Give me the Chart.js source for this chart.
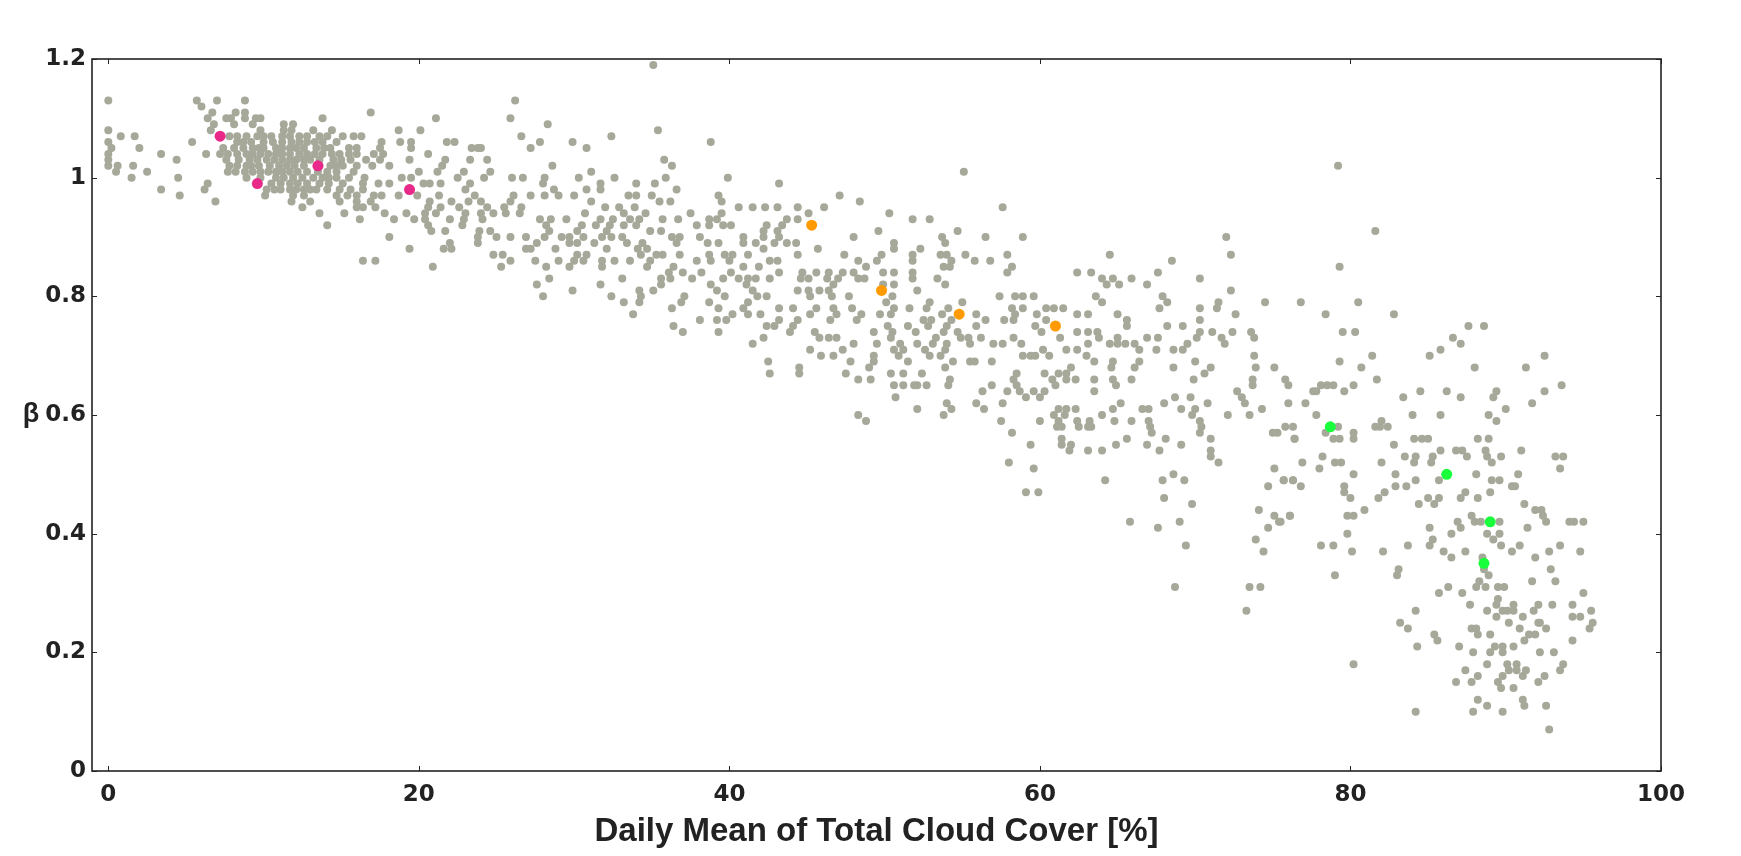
<!DOCTYPE html>
<html>
<head>
<meta charset="utf-8">
<script src="https://cdn.jsdelivr.net/npm/chart.js@4.4.1/dist/chart.umd.min.js"></script>
<style>
  html, body { margin: 0; padding: 0; background: #fff; }
</style>
</head>
<body>
<canvas id="chart" width="1741" height="856"></canvas>
<script>
// beta rows: [beta, [daily mean cloud cover values at that beta]]
const clearRows = [
  [1.13, [0, 5.7, 7, 8.8]],
  [1.12, [6]],
  [1.11, [6.7, 8.2, 8.8, 16.9]],
  [1.10, [6.4, 7.6, 7.9, 8.8, 9.5, 9.8, 13.8, 21.1]],
  [1.09, [6.8, 8.1, 9.3, 11.3, 11.9]],
  [1.08, [0, 6.6, 9.8, 11.3, 11.8, 13.2, 14.4, 18.7, 20.1]],
  [1.07, [0.8, 1.7, 7.8, 8.3, 8.9, 9.6, 10, 10.5, 11.2, 11.7, 12.3, 12.8, 13.6, 14.1, 15.1, 15.8, 16.3]],
  [1.06, [0, 5.4, 8.3, 8.7, 9.2, 10, 10.6, 11.2, 11.8, 12.3, 12.8, 13.3, 13.8, 14.7, 17.6, 18.8, 19.5, 21.8]],
  [1.05, [0.2, 2, 7.4, 8.1, 8.7, 9.3, 9.7, 10, 10.8, 11.2, 11.7, 12.1, 12.6, 13.4, 13.9, 14.3, 15.5, 16, 17.5, 19.5]],
  [1.04, [0, 3.4, 6.3, 7.2, 7.7, 8.3, 8.9, 9.3, 9.8, 10.3, 10.8, 11.2, 11.7, 12.3, 12.8, 13.3, 13.8, 14.4, 14.9, 15.5, 16, 17.1, 17.7, 20.6]],
  [1.03, [0, 4.4, 7.6, 8.4, 9.1, 9.6, 10.2, 10.7, 11.2, 11.7, 12.1, 12.6, 13, 13.6, 14.5, 15, 15.6, 16.6, 17.5, 19.4, 21.7]],
  [1.02, [0, 0.6, 1.6, 7.8, 8.3, 8.9, 9.2, 9.7, 10.4, 11, 11.5, 12, 12.6, 13.6, 14.3, 14.7, 15.1, 16, 17, 18.1, 21.5]],
  [1.01, [0.5, 2.5, 7.7, 8.2, 8.8, 9.3, 9.8, 10.3, 10.8, 11.2, 11.7, 12.2, 12.8, 13.5, 14.1, 14.7, 15.8, 20, 21.2]],
  [1.00, [1.5, 4.5, 8.9, 9.8, 10.8, 11.3, 11.9, 12.5, 13.2, 13.8, 14.2, 14.7, 15.5, 16.5, 18.9, 19.5]],
  [0.99, [6.4, 10.5, 11.1, 11.7, 12.2, 12.8, 13.6, 14.2, 15.1, 16.4, 17.4, 18.1, 20.3, 20.7, 21.4]],
  [0.98, [3.4, 6.2, 10.2, 10.7, 11.1, 11.7, 12.1, 12.6, 13, 13.4, 14.1, 14.9, 15.6, 16.4]],
  [0.97, [4.6, 10.1, 11.9, 12.6, 14.7, 15.4, 16, 17.1, 17.6, 18.7, 19.9, 21.3]],
  [0.96, [6.9, 11.8, 13, 14.9, 16, 16.9, 20.7]],
  [0.95, [12.5, 16, 16.4, 17.2, 20.6, 21.4]],
  [0.94, [13.6, 15.2, 17.8, 19.2, 20.4, 21.1, 23]],
  [0.93, [16.2, 18.4, 19.7, 20.4]],
  [0.92, [14.1, 20.6]],
  [0.91, [20.8, 21.7]],
  [0.90, [18.1]],
  [0.88, [19.4, 21.6]],
  [0.86, [16.4, 17.2]],
  [0.85, [20.9]]
];

const partlyRows = [
  [1.19, [35.1]],
  [1.13, [26.2]],
  [1.10, [25.9]],
  [1.09, [28.3]],
  [1.08, [35.4]],
  [1.07, [26.6, 32.4]],
  [1.06, [22.3, 27.8, 29.9, 38.8]],
  [1.05, [23.4, 23.8, 24, 27.2, 30.8]],
  [1.03, [23.3, 24.4, 35.8]],
  [1.02, [28.6, 36.3]],
  [1.01, [22.9, 24.6, 31.1]],
  [1.00, [22.5, 24.2, 26, 26.7, 28.1, 30.3, 32.6, 35.9, 39.9]],
  [0.99, [23.3, 28, 31.7, 34, 35.2, 43.2]],
  [0.98, [23, 28.7, 30.8, 31.7, 36.6]],
  [0.97, [23.6, 26.1, 27.2, 28.1, 29, 30, 33.5, 34, 35, 39.3, 47.1]],
  [0.96, [22.1, 23.2, 24, 25.9, 31.1, 35.5, 36.2, 39.5, 48.4]],
  [0.95, [22.6, 24.4, 25.5, 26.6, 32, 32.9, 33.9, 40.6, 41.5, 42.3, 43.1, 44.4, 46.1]],
  [0.94, [24, 24.8, 25.6, 26.5, 30.7, 33.2, 34.6, 37.5, 39.5, 45.1, 50.3]],
  [0.93, [22, 22.9, 24.1, 27.8, 28.5, 29.5, 31.7, 32.5, 33.6, 34.2, 35.7, 36.7, 38.7, 39.2, 43.7, 44.4]],
  [0.92, [22.8, 28.2, 30.5, 31.4, 32.3, 33.2, 34, 37.9, 38.7, 39.6, 40.1, 42.4, 43.4]],
  [0.91, [23.9, 24.6, 28.4, 30.2, 32.1, 34.9, 35.6, 42.2, 43.1, 49.6]],
  [0.90, [23.8, 25, 25.9, 26.9, 28.1, 29.2, 29.7, 30.6, 31.8, 32.4, 33.1, 36.3, 36.8, 38.1, 40.9, 42.2, 43.2, 48]],
  [0.89, [22, 23.8, 27.6, 29.7, 30.2, 31.3, 33.4, 34.4, 36.6, 38.6, 39.3, 40.9, 41.7, 42.9, 43.7, 44.3, 50.6]],
  [0.88, [22.1, 26.9, 27.2, 28.8, 32.1, 34.1, 34.7, 42.2, 45.7, 50.6]],
  [0.87, [24.8, 25.4, 30.2, 30.8, 34.3, 35.3, 35.7, 36.8, 38.7, 39.7, 40.2, 41.2, 44.4, 47.4, 49.8]],
  [0.86, [25.9, 27.5, 29, 30, 30.6, 31.8, 32.6, 33.6, 34.9, 37.9, 38.8, 40, 42.6, 43.1, 48.3, 49.5]],
  [0.85, [25.3, 28.2, 29.7, 31.8, 34.7, 36.4, 40.9, 41.9, 48.8]],
  [0.84, [36.1, 37, 38.2, 40.1, 43.2, 44.7, 45.6, 46.4, 47.3, 48, 49.9, 50.6]],
  [0.83, [28.4, 33.1, 35.6, 36.2, 37.6, 39.6, 40.6, 41.2, 41.7, 42.6, 44.6, 45.1, 46.3, 47, 48.3, 48.7]],
  [0.82, [27.6, 31.7, 35.6, 38.8, 41.1, 46.7, 49.9, 50.6]],
  [0.81, [29.9, 34.2, 35.1, 39.2, 41.5, 44.4, 45.1, 45.8, 46.4]],
  [0.80, [28, 32.4, 34.3, 37.1, 39.7, 41.8, 42.4, 45.2, 46.6, 47.7, 50.5]],
  [0.79, [33.2, 34.2, 36.9, 38.7, 41.2, 50.1]],
  [0.78, [36.3, 39.3, 40.9, 43.2, 44.1, 45.6, 46.7, 47.9, 50.6]],
  [0.77, [33.8, 40.2, 41.2, 42, 45.2, 46.9, 48.5, 49.7, 50.4]],
  [0.76, [38.1, 39.2, 39.8, 43.2, 44.4, 46.5, 48.2]],
  [0.75, [36.4, 42.4, 42.9, 44.1, 50.2]],
  [0.74, [37, 39.3, 43.9, 45.5, 49.3, 50.5]],
  [0.73, [42.2, 45.8, 46.4, 46.9, 50.4]],
  [0.72, [41.5, 48, 49.5]],
  [0.71, [45.2, 47.3, 50.6]],
  [0.70, [45.9, 46.7, 49.3]],
  [0.69, [42.5, 47.8, 49.3]],
  [0.68, [44.5, 49]],
  [0.67, [42.6, 44.5, 47.5, 50.4]],
  [0.66, [48.3, 49.1]],
  [0.65, [50.6]],
  [0.63, [50.7]],
  [0.60, [48.3]],
  [0.59, [48.8]]
];

const cloudyRows = [
  [1.01, [55.1]],
  [0.95, [57.6]],
  [0.93, [51.8, 52.9]],
  [0.91, [54.7]],
  [0.90, [53.7, 56.5, 58.9, 72]],
  [0.89, [53.9]],
  [0.88, [52.3]],
  [0.87, [51.8, 53.6, 54, 55.2, 57.9, 64.5, 72.3]],
  [0.86, [51.8, 54.3, 55.8, 56.8, 68.5]],
  [0.85, [53.8, 54.2, 58.2]],
  [0.84, [51.8, 57.9, 62.4, 63.3, 67.6]],
  [0.83, [51.8, 53.4, 64, 64.7, 65.9, 70.3]],
  [0.82, [53.9, 64.3, 65.1, 66.9]],
  [0.81, [52.1, 72.3]],
  [0.80, [57.4, 58.4, 58.9, 59.6, 63.6, 67.9]],
  [0.79, [52.9, 55, 64, 68.2, 71.5, 74.5, 76.8]],
  [0.78, [51.6, 52.7, 54.1, 58.2, 58.9, 60.4, 60.9, 61.5, 67.7, 70.3, 71.4]],
  [0.77, [53.7, 55.9, 58.4, 59.8, 62.4, 63.1, 65, 72.6]],
  [0.76, [52.5, 53, 54.3, 56.5, 57.7, 58.3, 60.4, 65.6, 70.3]],
  [0.75, [51.5, 52.8, 54, 55.9, 59.7, 65.6, 68.2, 69.2]],
  [0.74, [52, 53.8, 54.7, 60.1, 62.4, 63.1, 63.7, 70.3, 71.1, 72.4, 73.6]],
  [0.73, [53.3, 54.9, 55.4, 56.2, 58.3, 61.3, 63.8, 65, 66.9, 67.6, 70.1, 71.7, 73.8]],
  [0.72, [51, 52.1, 53.1, 54, 55.5, 57, 57.6, 58.8, 63.1, 64.5, 65, 65.5, 66.1, 69.5, 71.9]],
  [0.71, [51.2, 52.6, 53.9, 60.2, 61.7, 62.4, 66.4, 67.5, 68.6, 69.2]],
  [0.70, [50.9, 52.9, 53.6, 58.9, 59.4, 59.7, 60.6, 63, 73.8]],
  [0.69, [51.5, 54.4, 55.5, 55.8, 56.9, 63.5, 64.7, 66.4, 70]],
  [0.68, [53.9, 62, 64.6, 66.1, 68.6, 71, 73.9, 75.1]],
  [0.67, [51.2, 52.4, 58.5, 60.3, 61.2, 61.7, 70.6]],
  [0.66, [54.2, 58.3, 60.8, 61.7, 62.3, 63.5, 64.7, 65.9, 69.9, 73.7, 75.8]],
  [0.65, [51.2, 51.9, 52.1, 52.7, 54.1, 56.9, 58.5, 61, 64.9, 73.7, 76]],
  [0.64, [56.3, 57.9, 58.7, 59.6, 60.3, 63.5, 72.7]],
  [0.63, [59.1, 60, 68.7, 69.7, 73]],
  [0.62, [54, 55.9, 57.6, 65.2, 68, 70.8, 73.2, 76]],
  [0.61, [52.1, 54.3, 56.4, 61.2, 61.7, 62.3, 64.7, 66.6, 67, 69.1, 70, 74.3]],
  [0.60, [53.8, 60.9, 61.6, 64, 69.8, 72.1, 73.5]],
  [0.59, [57.5, 60, 61.2, 62.4, 63.2, 64.8, 65.9, 67, 70.3]],
  [0.58, [61.1, 61.4, 62.5, 63.1, 63.3, 67.1, 70.4, 75.8, 76.3]],
  [0.57, [58.2, 67.2, 70.3, 75, 75.3]],
  [0.56, [61.4, 65.6, 68.1, 71, 76.4]],
  [0.55, [59.4, 61.4, 62, 64.9, 66.9, 69.1]],
  [0.54, [61.9, 63.1, 64, 67.7, 71]],
  [0.53, [71]],
  [0.52, [58, 71.5]],
  [0.51, [59.6, 75.1]],
  [0.50, [68.6]],
  [0.49, [64.2, 67.9, 69.3, 75.7, 76.3]],
  [0.48, [74.7]],
  [0.47, [59.1, 59.9]],
  [0.46, [68]],
  [0.45, [69.8]],
  [0.44, [74.1]],
  [0.43, [75.1, 76.1]],
  [0.42, [65.8, 69, 75.4]],
  [0.41, [67.6, 74.7]],
  [0.39, [73.9]],
  [0.38, [69.4]],
  [0.37, [74.4]],
  [0.31, [68.7, 73.5, 74.2]],
  [0.27, [73.3]]
];

const overcastRows = [
  [1.02, [79.2]],
  [0.91, [81.6]],
  [0.85, [79.3]],
  [0.79, [80.5]],
  [0.77, [78.4, 82.8]],
  [0.75, [87.6, 88.6]],
  [0.74, [79.5, 80.3]],
  [0.73, [86.6]],
  [0.72, [87.1]],
  [0.71, [85.8]],
  [0.70, [81.4, 85.1, 92.5]],
  [0.69, [79.3]],
  [0.68, [80.7, 88, 91.3]],
  [0.66, [81.7]],
  [0.65, [78.1, 78.5, 78.9, 80.2, 93.6]],
  [0.64, [77.6, 77.8, 79.6, 84.5, 86.2, 89.4, 92.5]],
  [0.63, [83.4, 87.1, 89.2]],
  [0.62, [77.1, 91.7]],
  [0.61, [90]],
  [0.60, [77.8, 84, 85.8, 88.9]],
  [0.59, [82, 89.4]],
  [0.58, [79.2, 81.6, 81.9, 82.4]],
  [0.57, [78.4, 80.2]],
  [0.56, [76.4, 78.9, 79.3, 80.2, 84.1, 84.6, 85, 88.2, 88.9]],
  [0.55, [82.8]],
  [0.54, [85.8, 86.8, 87.2, 88.7, 91]],
  [0.53, [78.2, 83.5, 84.2, 85.3, 87.5, 88.8, 89.7, 93.2, 93.7]],
  [0.52, [76.9, 79, 79.4, 82, 84.1, 85.2, 89.1]],
  [0.51, [78, 93.5]],
  [0.50, [80.2, 82.9, 88.1, 90.8]],
  [0.49, [75.7, 76.3, 84.2, 85.7, 89.1, 89.6]],
  [0.48, [76.8, 79.6, 82.9, 83.6, 90.4, 90.6]],
  [0.47, [79.6, 82.2, 87.4, 89]],
  [0.46, [80, 81.8, 85, 85.7, 87.1, 88.2]],
  [0.45, [84.4, 85.4, 91.2]],
  [0.44, [80.9, 91.9, 92.3]],
  [0.43, [76.1, 79.8, 80.2, 87.8, 92.4]],
  [0.42, [75.5, 86.9, 88, 88.4, 89.6, 92.6, 94.1, 94.4, 95]],
  [0.41, [85.1, 87.1, 91.4]],
  [0.40, [79.8, 86.5, 88.8, 89.6]],
  [0.39, [85.3, 89.2]],
  [0.38, [78.1, 78.9, 83.7, 85.1, 89.7, 90.9, 93.5]],
  [0.37, [80.1, 82.1, 86, 87.4, 90.4, 92.8, 94.8]],
  [0.36, [86.5, 88.5, 91.9]],
  [0.34, [83.1, 88.6, 92.9]],
  [0.33, [79, 83, 88.9]],
  [0.32, [88.3, 91.7, 93.2]],
  [0.31, [86.3, 88.1, 88.7, 89.5, 89.9]],
  [0.30, [85.7, 87.2, 95]],
  [0.29, [89.5]],
  [0.28, [87.7, 89.4, 90.5, 92.1, 93, 94.3]],
  [0.27, [84.2, 88.8, 89.8, 90.1, 90.5, 91.8, 95.5]],
  [0.26, [89.4, 91.1, 94.3, 94.8]],
  [0.25, [83.2, 90.2, 92.1, 92.2, 95.6]],
  [0.24, [83.7, 87.8, 88.1, 90.9, 92.6, 95.4]],
  [0.23, [85.4, 88.2, 89, 91.5, 91.9]],
  [0.22, [85.6, 91.2, 94.3]],
  [0.21, [84.3, 87, 89.3, 89.8, 90.5]],
  [0.20, [87.9, 89, 89.8, 92.2, 93.1]],
  [0.18, [80.2, 88.8, 90.1, 90.7, 93.7]],
  [0.17, [87.4, 90.2, 90.7, 91.3, 93.5]],
  [0.16, [88.2, 89.8, 91.1, 92.5]],
  [0.15, [86.8, 87.8, 89.5, 92.1]],
  [0.14, [89.7, 90.5]],
  [0.12, [88.2, 91.1]],
  [0.11, [88.8, 91.2, 92.6]],
  [0.10, [84.2, 87.9, 89.8]],
  [0.07, [92.8]]
];

// highlighted days
const pinkCover = [7.2, 9.6, 13.5, 19.4];
const pinkBeta = [1.07, 0.99, 1.02, 0.98];
const orangeCover = [45.3, 49.8, 54.8, 61];
const orangeBeta = [0.92, 0.81, 0.77, 0.75];
const greenCover = [78.7, 86.2, 89, 88.6];
const greenBeta = [0.58, 0.50, 0.42, 0.35];

const xTicks = [0, 20, 40, 60, 80, 100];
const yTicks = [0, 0.2, 0.4, 0.6, 0.8, 1, 1.2];
const yTickLabels = ['0', '0.2', '0.4', '0.6', '0.8', '1', '1.2'];
const yTitle = 'β';

function rowsToPoints(rows) {
  const pts = [];
  rows.forEach(([b, xs]) => xs.forEach(x => pts.push({ x: x, y: b })));
  return pts;
}
function pairs(xs, ys) {
  return xs.map((x, i) => ({ x: x, y: ys[i] }));
}

const grayPoints = [].concat(
  rowsToPoints(clearRows),
  rowsToPoints(partlyRows),
  rowsToPoints(cloudyRows),
  rowsToPoints(overcastRows)
);

// frame, inward ticks on all four sides, and the upright beta label
const frameTicks = {
  id: 'frameTicks',
  afterDatasetsDraw(chart) {
    const { ctx, chartArea: a, scales: { x, y } } = chart;
    const len = 5;
    ctx.save();
    ctx.strokeStyle = '#262626';
    ctx.lineWidth = 1;
    xTicks.forEach(v => {
      const px = Math.round(x.getPixelForValue(v)) + 0.5;
      ctx.beginPath();
      ctx.moveTo(px, a.bottom); ctx.lineTo(px, a.bottom - len);
      ctx.moveTo(px, a.top); ctx.lineTo(px, a.top + len);
      ctx.stroke();
    });
    yTicks.forEach(v => {
      const py = Math.round(y.getPixelForValue(v)) + 0.5;
      ctx.beginPath();
      ctx.moveTo(a.left, py); ctx.lineTo(a.left + len, py);
      ctx.moveTo(a.right, py); ctx.lineTo(a.right - len, py);
      ctx.stroke();
    });
    ctx.lineWidth = 1.6;
    ctx.strokeStyle = '#222';
    ctx.strokeRect(a.left, a.top, a.right - a.left, a.bottom - a.top);

    ctx.fillStyle = '#222';
    ctx.font = 'bold 27px "Liberation Sans"';
    ctx.textAlign = 'center';
    ctx.textBaseline = 'middle';
    ctx.fillText(yTitle, 31, (a.top + a.bottom) / 2);
    ctx.restore();
  }
};

const tickFont = { family: 'DejaVu Sans', weight: 'bold', size: 23 };

new Chart(document.getElementById('chart').getContext('2d'), {
  type: 'scatter',
  data: {
    datasets: [
      { label: 'clear', data: pairs(pinkCover, pinkBeta), backgroundColor: '#e8298a', pointRadius: 5.5, borderWidth: 0, order: 1 },
      { label: 'mixed', data: pairs(orangeCover, orangeBeta), backgroundColor: '#ff9a00', pointRadius: 5.5, borderWidth: 0, order: 1 },
      { label: 'overcast', data: pairs(greenCover, greenBeta), backgroundColor: '#1aff3c', pointRadius: 5.5, borderWidth: 0, order: 1 },
      { label: 'all days', data: grayPoints, backgroundColor: 'rgb(166,169,153)', pointRadius: 4, borderWidth: 0, order: 2 }
    ]
  },
  plugins: [frameTicks],
  options: {
    responsive: false,
    animation: false,
    layout: { padding: { top: 59, right: 80, left: 0, bottom: 0 } },
    plugins: { legend: { display: false }, tooltip: { enabled: false } },
    scales: {
      x: {
        type: 'linear',
        min: -1.05,
        max: 100,
        afterFit: s => { s.height = 85; },
        grid: { display: false, drawTicks: false },
        border: { display: false },
        afterBuildTicks: s => { s.ticks = xTicks.map(v => ({ value: v })); },
        ticks: { padding: 10, color: '#222', font: tickFont, maxRotation: 0 },
        title: {
          display: true,
          text: 'Daily Mean of Total Cloud Cover [%]',
          color: '#222',
          font: { family: 'Liberation Sans', weight: 'bold', size: 33 },
          padding: { top: 0, bottom: 4 }
        }
      },
      y: {
        type: 'linear',
        min: 0,
        max: 1.2,
        afterFit: s => { s.width = 92; },
        grid: { display: false, drawTicks: false },
        border: { display: false },
        afterBuildTicks: s => { s.ticks = yTicks.map(v => ({ value: v })); },
        ticks: {
          padding: 6,
          color: '#222',
          font: tickFont,
          callback: (v, i) => yTickLabels[i]
        }
      }
    }
  }
});
</script>
</body>
</html>
